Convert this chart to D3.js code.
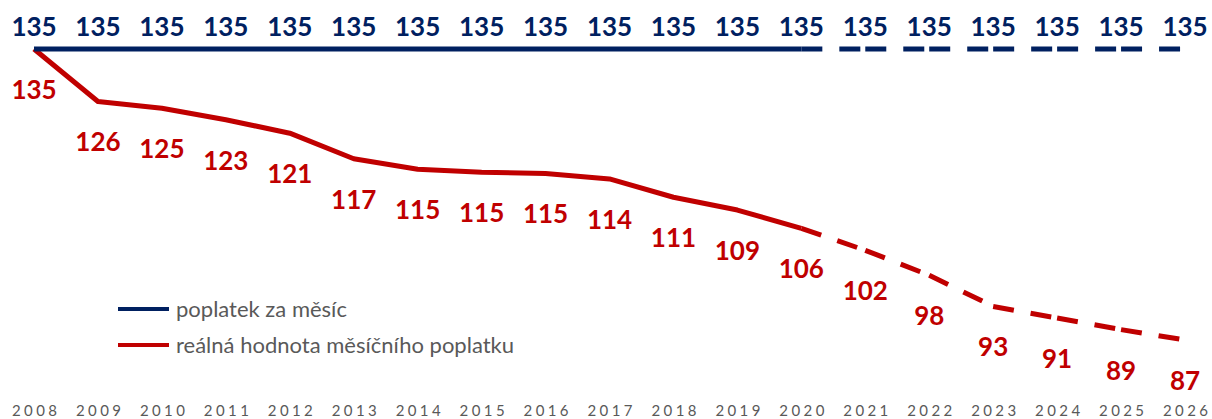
<!DOCTYPE html>
<html>
<head>
<meta charset="utf-8">
<script src="https://cdn.jsdelivr.net/npm/d3@7"></script>
<style>
    body { margin: 0; background: #fff; }
    svg { display: block; font-family: Lato, "Open Sans", sans-serif; }
</style>
</head>
<body>
<svg id="chart" width="1212" height="419"></svg>
<script>
const years = ['2008','2009','2010','2011','2012','2013','2014','2015','2016','2017',
               '2018','2019','2020','2021','2022','2023','2024','2025','2026'];
// nominal fee per month
const fee = [135,135,135,135,135,135,135,135,135,135,135,135,135,135,135,135,135,135,135];
// real value of the monthly fee (labels show rounded values)
const realValue = [135,126.4,125.3,123.4,121.2,117.0,115.3,114.8,114.6,113.7,
                   110.7,108.6,105.6,102.0,97.9,92.8,90.9,89.0,87.3];
const lastActual = 12; // 2020 -> after that forecast (dashed)
const legendLabels = ['poplatek za měsíc', 'reálná hodnota měsíčního poplatku'];

const blue = '#002060';
const red = '#c00000';
const grey = '#595959';

const svg = d3.select('#chart');

let xScale = d3.scalePoint()
    .domain(years)
    .range([34, 1185]);
let yScale = d3.scaleLinear()
    .domain([80, 135])
    .range([384.5, 49]);

const line = d3.line()
    .x(d => xScale(d.year))
    .y(d => yScale(d.value));

const drawSeries = (values, color) => {
    const pts = values.map((v, i) => ({year: years[i], value: v}));
    // solid part
    svg.append('path')
        .datum(pts.slice(0, lastActual + 1))
        .attr('d', line)
        .attr('fill', 'none')
        .attr('stroke', color)
        .attr('stroke-width', 5)
        .attr('stroke-linejoin', 'round');
    // dashed part, each segment restarts its dash pattern
    for (let i = lastActual; i < pts.length - 1; i++) {
        svg.append('path')
            .datum([pts[i], pts[i + 1]])
            .attr('d', line)
            .attr('fill', 'none')
            .attr('stroke', color)
            .attr('stroke-width', 5)
            .attr('stroke-dasharray', '21,17');
    }
};

drawSeries(realValue, red);
drawSeries(fee, blue);

// labels
svg.append('g').selectAll('text')
    .data(fee)
    .join('text')
    .attr('x', (d, i) => xScale(years[i]))
    .attr('y', 36)
    .attr('text-anchor', 'middle')
    .attr('font-size', 26)
    .attr('font-weight', 700)
    .attr('fill', blue)
    .text(d => Math.round(d));

svg.append('g').selectAll('text')
    .data(realValue)
    .join('text')
    .attr('x', (d, i) => xScale(years[i]))
    .attr('y', d => yScale(d) + 50)
    .attr('text-anchor', 'middle')
    .attr('font-size', 26)
    .attr('font-weight', 700)
    .attr('fill', red)
    .text(d => Math.round(d));

// x axis (years only)
const xAxis = svg.append('g')
    .attr('transform', 'translate(0,405)')
    .call(d3.axisBottom(xScale).tickSize(0).tickPadding(0));
xAxis.select('.domain').remove();
xAxis.selectAll('text')
    .attr('font-family', 'Lato, sans-serif')
    .attr('font-size', 15)
    .attr('fill', grey)
    .attr('dx', 1.7)
    .style('letter-spacing', '3.4px');

// legend
const legend = svg.append('g');
[blue, red].forEach((c, i) => {
    const y = 309 + i * 36;
    legend.append('line')
        .attr('x1', 118).attr('x2', 169)
        .attr('y1', y).attr('y2', y)
        .attr('stroke', c)
        .attr('stroke-width', 4);
    legend.append('text')
        .attr('x', 176)
        .attr('y', y + 8)
        .attr('font-size', 22)
        .attr('fill', grey)
        .text(legendLabels[i]);
});
</script>
</body>
</html>
